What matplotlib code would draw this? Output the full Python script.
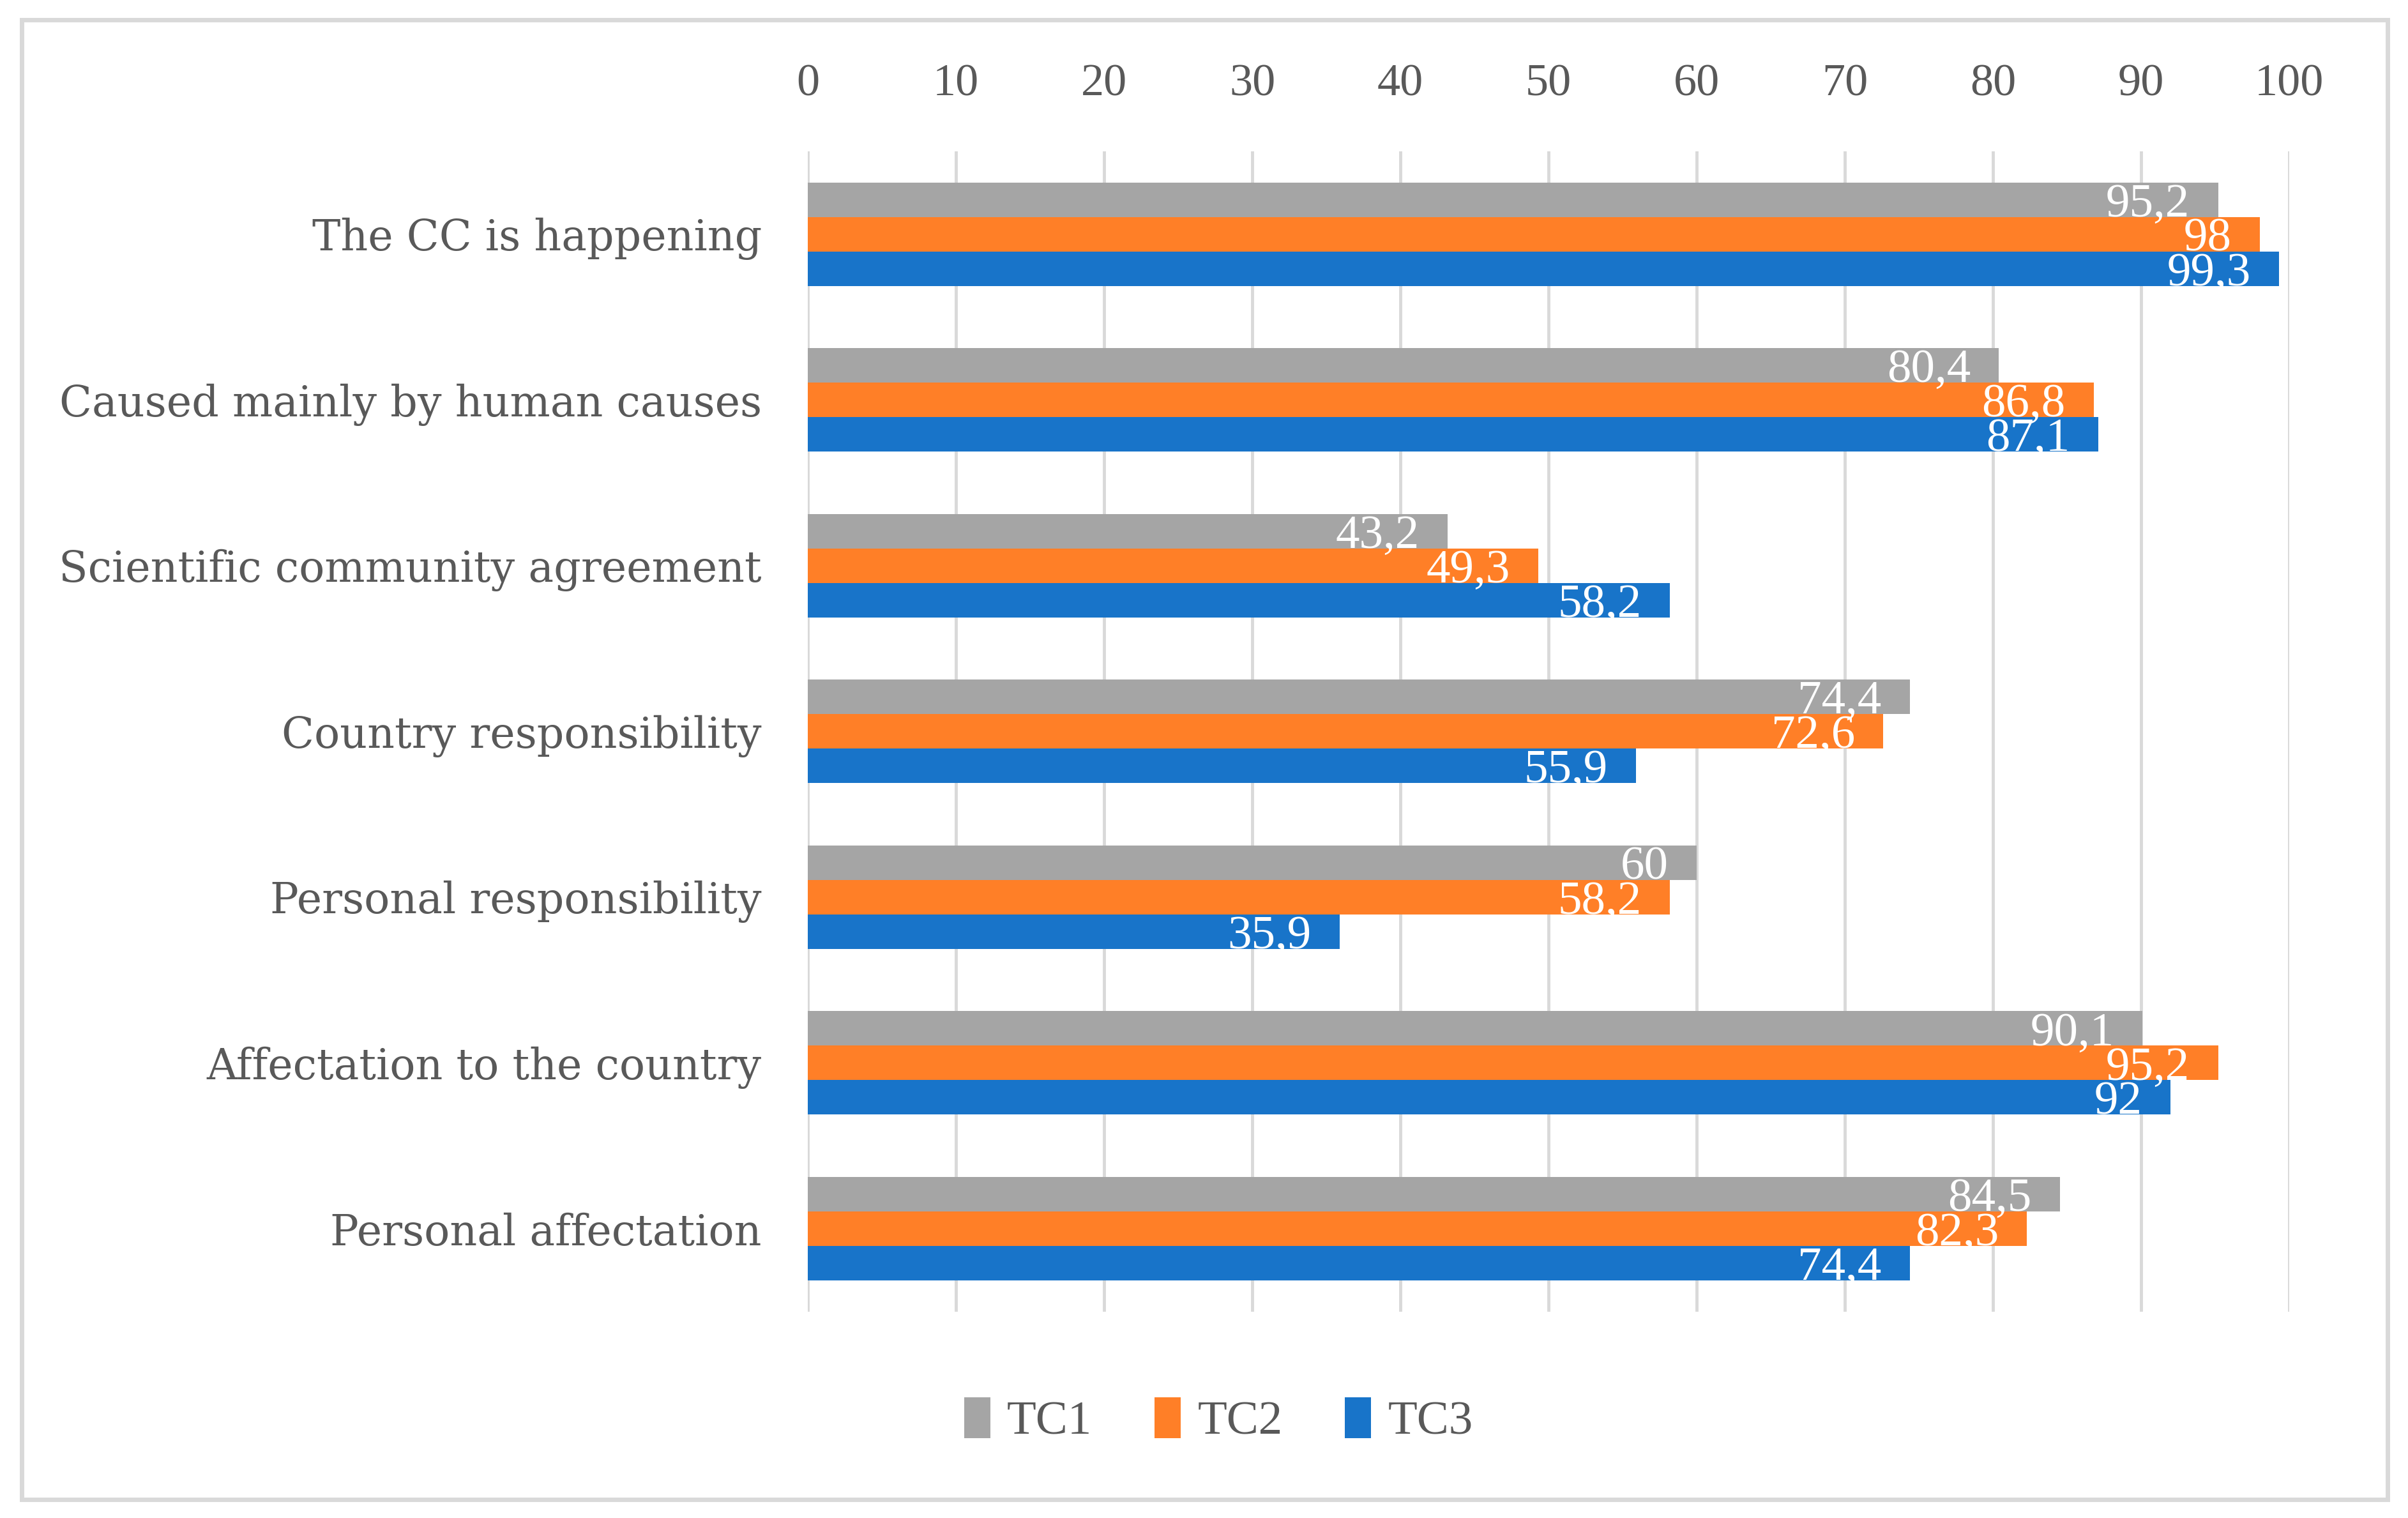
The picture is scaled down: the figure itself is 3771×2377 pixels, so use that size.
import matplotlib.pyplot as plt
from matplotlib.patches import Rectangle
import numpy as np

# 数据
categories = ["The CC is happening", "Caused mainly by human causes",
              "Scientific community agreement", "Country responsibility",
              "Personal responsibility", "Affectation to the country",
              "Personal affectation"]
series_names = ["TC1", "TC2", "TC3"]
tc1 = [95.2, 80.4, 43.2, 74.4, 60, 90.1, 84.5]
tc2 = [98, 86.8, 49.3, 72.6, 58.2, 95.2, 82.3]
tc3 = [99.3, 87.1, 58.2, 55.9, 35.9, 92, 74.4]
x_ticks = list(range(0, 101, 10))

colors = ["#A5A5A5", "#FF7F27", "#1874C9"]
text_color = "#595959"
grid_color = "#D9D9D9"

plt.rcParams['font.family'] = ['Liberation Serif', 'DejaVu Serif']

fig = plt.figure(figsize=(37.71, 23.77), dpi=100)
ax = fig.add_axes([0.3355, 0.136, 0.6152, 0.7644])

y = np.arange(len(categories))
h = 0.208
for i, (vals, name) in enumerate(zip([tc1, tc2, tc3], series_names)):
    pos = y + (i - 1) * h
    ax.barh(pos, vals, height=h, color=colors[i], label=name, zorder=3)
    # 数据标签
    for p, v in zip(pos, vals):
        lab = f"{v:g}".replace(".", ",")
        ax.annotate(lab, xy=(v, p), xytext=(-32, -6), textcoords="offset points",
                    ha="right", va="center", color="white", fontsize=54, zorder=4)

ax.set_ylim(len(categories) - 0.5, -0.5)
ax.set_xlim(0, 100)
ax.set_yticks(y)
ax.set_yticklabels(categories, family="DejaVu Serif", fontsize=48)
ax.set_xticks(x_ticks)
ax.xaxis.tick_top()
ax.tick_params(axis="x", length=0, pad=52, labelsize=52, labelcolor=text_color)
ax.tick_params(axis="y", length=0, pad=52, labelcolor=text_color)
ax.grid(axis="x", color=grid_color, linewidth=3.5, zorder=0)
for s in ax.spines.values():
    s.set_visible(False)

# 图例
fig.legend(loc="center", bbox_to_anchor=(0.506, 0.064), ncol=3, frameon=False,
           fontsize=54, labelcolor=text_color, handlelength=0.55, handleheight=0.95,
           handletextpad=0.35, columnspacing=1.3)

# 外框
fig.patches.append(Rectangle((0.009, 0.012), 0.9825, 0.975, transform=fig.transFigure,
                             fill=False, edgecolor=grid_color, linewidth=5))

plt.savefig("out.png")
plt.close()
